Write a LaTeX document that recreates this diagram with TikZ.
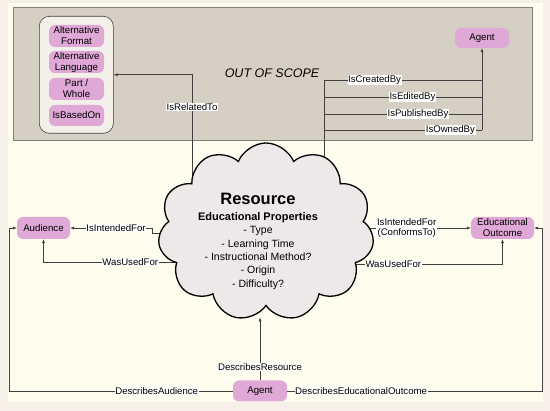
\documentclass[tikz,border=0pt]{standalone}
\usepackage{fontspec}
\setmainfont{Liberation Sans}
\usetikzlibrary{shapes.symbols,arrows.meta}
\definecolor{peach}{RGB}{247,240,232}
\definecolor{cream}{RGB}{255,253,238}
\definecolor{scopegray}{RGB}{214,207,195}
\definecolor{scopeline}{RGB}{130,128,122}
\definecolor{grpfill}{RGB}{243,240,234}
\definecolor{pinkn}{RGB}{224,168,214}
\definecolor{cloudf}{RGB}{238,232,232}
\definecolor{lineg}{RGB}{64,64,64}
\begin{document}
\begin{tikzpicture}[x=1pt,y=-1pt,
 pnode/.style={fill=pinkn, rounded corners=6pt, inner sep=0pt, align=center,
   font=\fontsize{9.7}{11}\selectfont, minimum height=22pt},
 lbl/.style={fill=white, inner sep=0.6pt, font=\fontsize{9.6}{11}\selectfont},
 conn/.style={draw=lineg, line width=0.6pt},
 arr/.style={conn, -{Latex[length=4pt,width=3.2pt]}}]

\useasboundingbox (0,0) rectangle (550,411);
\fill[peach] (0,0) rectangle (550,411);
\fill[cream] (8,3) rectangle (543,402);

% out of scope area
\node[draw=scopeline, fill=scopegray, line width=0.6pt, minimum width=519pt, minimum height=133pt,
      inner sep=0pt, anchor=north west] (scope) at (13,7) {};
\node[font=\fontsize{12.5}{14}\selectfont\itshape] (oos) at (272,73) {OUT OF SCOPE};

% group of relations
\node[draw=lineg, fill=grpfill, line width=0.6pt, rounded corners=10pt, minimum width=74pt,
      minimum height=117pt, inner sep=0pt, anchor=north west] (grp) at (39,16) {};
\node[pnode, minimum width=55pt] (af) at (76.5,36) {Alternative\\Format};
\node[pnode, minimum width=55pt] (al) at (76.5,62) {Alternative\\Language};
\node[pnode, minimum width=55pt] (pw) at (76.5,89) {Part /\\Whole};
\node[pnode, minimum width=55pt, minimum height=21pt] (ibo) at (76.5,115.5) {IsBasedOn};

\node[pnode, minimum width=54pt, minimum height=20pt] (agent1) at (482,38) {Agent};
\node[pnode, minimum width=53pt] (aud) at (43.5,228) {Audience};
\node[pnode, minimum width=63pt] (eo) at (502.5,228) {Educational\\Outcome};
\node[pnode, minimum width=54pt, minimum height=21pt] (agent2) at (260,391) {Agent};

% coordinates
\coordinate (relstart) at (192,210);
\coordinate (busstart) at (324,210);
\coordinate (bus1) at (324,80);
\coordinate (bus2) at (324,97);
\coordinate (bus3) at (324,114);
\coordinate (bus4) at (324,130);
\coordinate (ag1) at (482,80);
\coordinate (ag2) at (482,97);
\coordinate (ag3) at (482,114);
\coordinate (ag4) at (482,130);
\coordinate (lif0) at (175,233);
\coordinate (lif1) at (152,233);
\coordinate (lif2) at (152,228);
\coordinate (luf0) at (175,262);
\coordinate (rif0) at (355,231);
\coordinate (rif1) at (369,231);
\coordinate (rif2) at (369,228);
\coordinate (ruf0) at (355,264);
\coordinate (bl) at (9,391);
\coordinate (tl) at (9,228);
\coordinate (br) at (542,391);
\coordinate (tr) at (542,228);
\coordinate (resbot) at (260,317.5);

% connectors starting inside the cloud (drawn first, cloud covers their start)
\draw[arr] (relstart) |- node[lbl, pos=0.38] {IsRelatedTo} (grp.east);
\draw[conn] (busstart) -- (bus1) -- node[lbl, pos=0.32] {IsCreatedBy} (ag1);
\draw[conn] (bus2) -- node[lbl, pos=0.56] {IsEditedBy} (ag2);
\draw[conn] (bus3) -- node[lbl, pos=0.595] {IsPublishedBy} (ag3);
\draw[conn] (bus4) -- node[lbl, pos=0.80] {IsOwnedBy} (ag4);
\draw[conn] (ag1) -- (ag4);
\draw[arr] (ag1) -- (agent1.south);

\draw[arr] (lif0) -- (lif1) -- (lif2) -- node[lbl, pos=0.44] {IsIntendedFor} (aud.east);
\draw[arr] (luf0) -| node[lbl, pos=0.17] {WasUsedFor} (aud.south);
\draw[arr] (rif0) -- (rif1) -- (rif2) -- node[lbl, align=center, pos=0.37,
   font=\fontsize{9.6}{10.8}\selectfont] {IsIntendedFor\\(ConformsTo)} (eo.west);
\draw[arr] (ruf0) -| node[lbl, pos=0.13] {WasUsedFor} (eo.south);

% cloud
\node[cloud, cloud puffs=11, cloud puff arc=135, draw=black, line width=1.3pt,
      fill=cloudf, minimum width=216pt, minimum height=178pt, inner sep=0pt] (res) at (266,232) {};
\node[align=center, font=\fontsize{10.5}{13.4}\selectfont, anchor=north] (rtext) at (258,190)
  {{\fontsize{16.5}{18}\selectfont\bfseries Resource}\\[2pt]
   {\fontsize{11}{13.4}\selectfont\bfseries Educational Properties}\\
   - Type\\ - Learning Time\\ - Instructional Method?\\ - Origin\\ - Difficulty?};

% bottom agent connectors
\draw[arr] (agent2.north) -- node[lbl, pos=0.21] {DescribesResource} (resbot);
\draw[arr] (agent2.west) -- node[lbl, pos=0.34] {DescribesAudience} (bl) -- (tl) -- (aud.west);
\draw[arr] (agent2.east) -- node[lbl, pos=0.29] {DescribesEducationalOutcome} (br) -- (tr) -- (eo.east);
\end{tikzpicture}
\end{document}
